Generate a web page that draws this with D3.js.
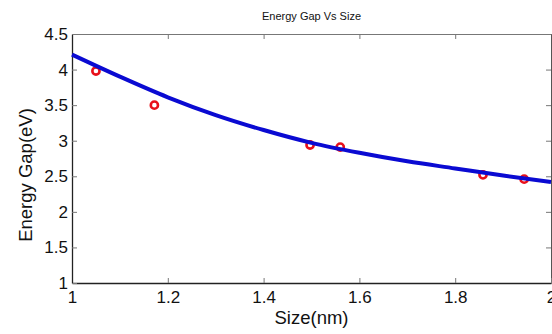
<!DOCTYPE html>
<html>
<head>
<meta charset="utf-8">
<script src="https://cdn.jsdelivr.net/npm/d3@7"></script>
<style>
  body { margin: 0; background: #fff; }
  svg { display: block; font-family: Arial, "Liberation Sans", sans-serif; }
</style>
</head>
<body>
<div id="chart"></div>
<script>
// measured points (red circles)
var sizeData = [1.05, 1.172, 1.497, 1.56, 1.858, 1.944];
var gapData = [3.98, 3.50, 2.94, 2.91, 2.52, 2.46];

// fitted curve
var fitSize = [1.0, 1.1, 1.2, 1.3, 1.4, 1.5, 1.6, 1.7, 1.8, 1.9, 2.0];
var fitGap = [4.21, 3.90, 3.61, 3.36, 3.15, 2.97, 2.83, 2.71, 2.61, 2.51, 2.42];

var xTicks = [1, 1.2, 1.4, 1.6, 1.8, 2];
var xTickLabels = ["1", "1.2", "1.4", "1.6", "1.8", "2"];
var yTicks = [1, 1.5, 2, 2.5, 3, 3.5, 4, 4.5];
var yTickLabels = ["1", "1.5", "2", "2.5", "3", "3.5", "4", "4.5"];

var width = 552;
var height = 334;
var plotL = 72, plotR = 551, plotT = 34, plotB = 283;

var svg = d3.select("#chart").append("svg")
    .attr("width", width)
    .attr("height", height);

var x = d3.scaleLinear().domain([1, 2]).range([plotL, plotR]);
var y = d3.scaleLinear().domain([1, 4.5]).range([plotB, plotT]);

// frame: top and right (light)
svg.append("g")
    .attr("transform", "translate(0," + plotT + ")")
    .call(d3.axisTop(x).tickValues(xTicks).tickSize(-5).tickSizeOuter(0).tickFormat(""))
    .call(function(g){
        g.select(".domain").attr("stroke", "#777");
        g.selectAll(".tick line").attr("stroke", "#777");
    });

svg.append("g")
    .attr("transform", "translate(" + plotR + ",0)")
    .call(d3.axisRight(y).tickValues(yTicks).tickSize(-5).tickSizeOuter(0).tickFormat(""))
    .call(function(g){
        g.select(".domain").attr("stroke", "#555");
        g.selectAll(".tick line").attr("stroke", "#777");
    });

// bottom axis
svg.append("g")
    .attr("transform", "translate(0," + plotB + ")")
    .call(d3.axisBottom(x).tickValues(xTicks).tickSize(-5).tickSizeOuter(0).tickPadding(8)
        .tickFormat(function(d, i){ return xTickLabels[i]; }))
    .call(function(g){
        g.select(".domain").attr("stroke", "#222").attr("stroke-width", 1.3);
        g.selectAll(".tick line").attr("stroke", "#777");
        g.selectAll("text").attr("fill", "#111").style("font-size", "17px");
    });

// left axis
svg.append("g")
    .attr("transform", "translate(" + plotL + ",0)")
    .call(d3.axisLeft(y).tickValues(yTicks).tickSize(-5).tickSizeOuter(0).tickPadding(4)
        .tickFormat(function(d, i){ return yTickLabels[i]; }))
    .call(function(g){
        g.select(".domain").attr("stroke", "#222").attr("stroke-width", 1.3);
        g.selectAll(".tick line").attr("stroke", "#777");
        g.selectAll("text").attr("fill", "#111").style("font-size", "17px");
    });

// data markers
svg.append("g").selectAll("circle")
    .data(sizeData)
    .enter()
    .append("circle")
    .attr("cx", function(d){ return x(d); })
    .attr("cy", function(d, i){ return y(gapData[i]); })
    .attr("r", 3.6)
    .attr("fill", "none")
    .attr("stroke", "#e8101a")
    .attr("stroke-width", 2.6);

// fit line
var line = d3.line()
    .x(function(d){ return x(d); })
    .y(function(d, i){ return y(fitGap[i]); })
    .curve(d3.curveMonotoneX);

svg.append("path")
    .datum(fitSize)
    .attr("d", line)
    .attr("fill", "none")
    .attr("stroke", "#0a0ad2")
    .attr("stroke-width", 4);

// title and labels
svg.append("text")
    .attr("x", (plotL + plotR) / 2)
    .attr("y", 20)
    .attr("text-anchor", "middle")
    .style("font-size", "11px")
    .attr("fill", "#111")
    .text("Energy Gap Vs Size");

svg.append("text")
    .attr("x", (plotL + plotR) / 2)
    .attr("y", 324)
    .attr("text-anchor", "middle")
    .style("font-size", "18.5px")
    .attr("fill", "#111")
    .text("Size(nm)");

svg.append("text")
    .attr("transform", "translate(32,175) rotate(-90)")
    .attr("text-anchor", "middle")
    .style("font-size", "18.5px")
    .attr("fill", "#111")
    .text("Energy Gap(eV)");
</script>
</body>
</html>
